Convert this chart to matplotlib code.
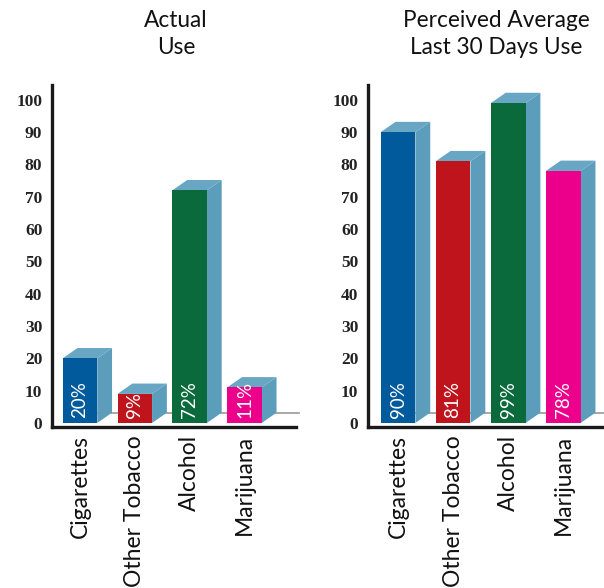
import matplotlib.pyplot as plt
from matplotlib.patches import Polygon

categories = ['Cigarettes', 'Other Tobacco', 'Alcohol', 'Marijuana']
actual_use = [20, 9, 72, 11]
perceived_use = [90, 81, 99, 78]
yticks = list(range(0, 101, 10))

front_colors = ['#005a9b', '#c0141d', '#0b6a3b', '#ec008b']
side_color = '#5c9dbc'
top_color = '#68a6c3'
title_font = ['Lato', 'DejaVu Sans']

BAR_W = 0.63
DX = 0.27   # depth offset, category units
DY = 3.2    # depth offset, value units


def draw_panel(ax, values, xlim):
    xs = list(range(len(values)))
    ax.bar(xs, values, width=BAR_W, color=front_colors, zorder=3)
    for x, v in zip(xs, values):
        r = x + BAR_W / 2
        l = x - BAR_W / 2
        side = Polygon([(r, 0), (r + DX, DY), (r + DX, v + DY), (r, v)],
                       closed=True, facecolor=side_color, edgecolor='none', zorder=2)
        top = Polygon([(l, v), (l + DX, v + DY), (r + DX, v + DY), (r, v)],
                      closed=True, facecolor=top_color, edgecolor='none', zorder=2)
        ax.add_patch(side)
        ax.add_patch(top)
        ax.text(x, 1.5, f'{v}%', rotation=90, ha='center', va='bottom',
                color='white', fontsize=13.5, family=title_font, zorder=4)
    # back edge of the floor
    ax.plot([-BAR_W / 2 + DX, xlim[1] + 0.05], [DY, DY], color='#9a9a9a',
            lw=1.2, zorder=1, clip_on=False)

    ax.set_xlim(*xlim)
    ax.set_ylim(-1.24, 104.6)
    ax.set_yticks(yticks)
    ax.set_yticklabels([str(t) for t in yticks], family='Liberation Serif',
                       fontweight='bold', fontsize=12.5, color='#222222')
    ax.set_xticks(xs)
    ax.set_xticklabels(categories, rotation=90, va='top', ha='center',
                       fontsize=16.5, family=title_font, color='#111111')
    ax.tick_params(length=0)
    ax.tick_params(axis='y', pad=7)
    ax.tick_params(axis='x', pad=6)
    for s in ['top', 'right']:
        ax.spines[s].set_visible(False)
    for s in ['left', 'bottom']:
        ax.spines[s].set_linewidth(2.4)
        ax.spines[s].set_color('#1a1a1a')


fig = plt.figure(figsize=(6.04, 5.88), dpi=100)
bottom = (588 - 427) / 588
height = (427 - 85) / 588
ax1 = fig.add_axes([52 / 604, bottom, 244 / 604, height])
ax2 = fig.add_axes([368 / 604, bottom, 236 / 604, height])

draw_panel(ax1, actual_use, (-0.51, 3.94))
draw_panel(ax2, perceived_use, (-0.545, 3.74))

fig.text(176 / 604, 1 - 10 / 588, 'Actual\nUse', ha='center', va='top',
         fontsize=16.3, family=title_font, color='#111111', linespacing=1.35)
fig.text(496 / 604, 1 - 10 / 588, 'Perceived Average\nLast 30 Days Use', ha='center',
         va='top', fontsize=16.3, family=title_font, color='#111111',
         linespacing=1.35)

fig.savefig('out.png', dpi=100, facecolor='white')
